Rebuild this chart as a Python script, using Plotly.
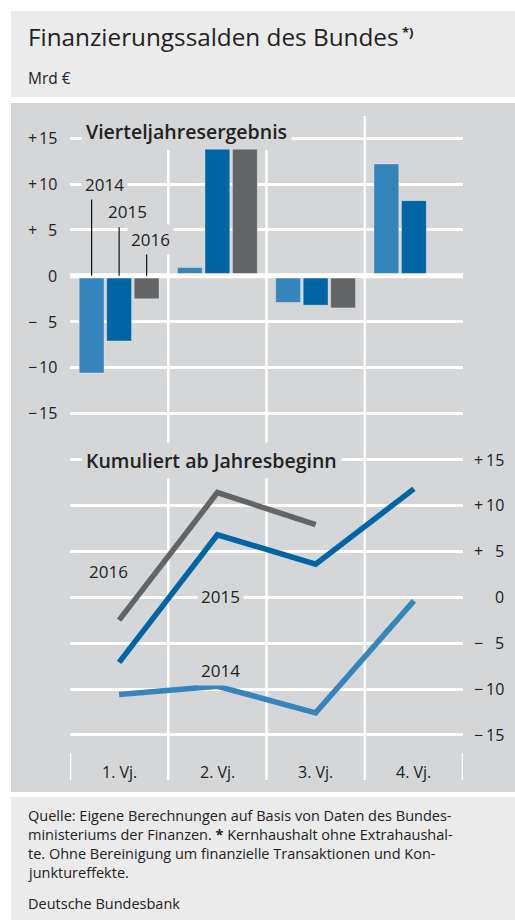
import plotly.graph_objects as go

W, H = 515, 920

# ---- data (bn €) ----
quarters = ["1. Vj.", "2. Vj.", "3. Vj.", "4. Vj."]
years = ["2014", "2015", "2016"]

# quarterly financial balance
q_2014 = [-10.6, 0.9, -2.9, 12.2]
q_2015 = [-7.1, 13.9, -3.2, 8.2]
q_2016 = [-2.5, 13.9, -3.5, None]

# cumulative balance since start of year
cum_2014 = [-10.6, -9.7, -12.6, -0.4]
cum_2015 = [-7.1, 6.8, 3.6, 11.8]
cum_2016 = [-2.5, 11.4, 7.9, None]

tick_vals = [15, 10, 5, 0, -5, -10, -15]

note_lines = [
    "Quelle: Eigene Berechnungen auf Basis von Daten des Bundes-",
    "ministeriums der Finanzen. <b>*</b> Kernhaushalt ohne Extrahaushal-",
    "te. Ohne Bereinigung um finanzielle Transaktionen und Kon-",
    "junktureffekte.",
]

# ---- styling ----
COLORS = {"2014": "#3584bb", "2015": "#0065a4", "2016": "#636466"}
PANEL = "#d5d6d8"
LIGHT = "#ebebec"
TXT = "#222222"
FONT = "Open Sans, Noto Sans, sans-serif"


def px_x(x):
    return x / W


def px_y(y):
    return 1 - y / H


# plot area geometry (pixels)
X0, X1 = 70, 463
TOP_T, TOP_B, ZERO1, K1 = 116, 430, 275.8, 9.167
BOT_T, BOT_B, ZERO2, K2 = 440, 750, 597.2, 9.18

fig = go.Figure()

for yr, vals in zip(years, [q_2014, q_2015, q_2016]):
    fig.add_trace(go.Bar(
        x=quarters, y=vals, name=yr, xaxis="x", yaxis="y",
        marker=dict(color=COLORS[yr], line=dict(color="rgba(255,255,255,0.28)", width=1)),
        showlegend=False, hoverinfo="skip",
    ))

for yr, vals in zip(years, [cum_2014, cum_2015, cum_2016]):
    fig.add_trace(go.Scatter(
        x=quarters, y=vals, name=yr, xaxis="x2", yaxis="y2", mode="lines",
        line=dict(color=COLORS[yr], width=5.5),
        showlegend=False, hoverinfo="skip",
    ))

xax = dict(type="category", range=[-0.5, 3.5], domain=[px_x(X0), px_x(X1)],
           showgrid=False, zeroline=False, showline=False, showticklabels=False,
           ticks="", fixedrange=True)
yax = dict(tickvals=tick_vals, showticklabels=False, showgrid=True,
           gridcolor="white", gridwidth=2.7, zeroline=False, showline=False,
           ticks="", fixedrange=True)

fig.update_layout(
    width=W, height=H,
    margin=dict(l=0, r=0, t=0, b=0),
    paper_bgcolor="white", plot_bgcolor="rgba(0,0,0,0)",
    font=dict(family=FONT, color=TXT),
    barmode="group", bargap=0.16, bargroupgap=0.1,
    xaxis=dict(xax, anchor="y"),
    xaxis2=dict(xax, anchor="y2"),
    yaxis=dict(yax, anchor="x", domain=[px_y(TOP_B), px_y(TOP_T)],
               range=[(ZERO1 - TOP_B) / K1, (ZERO1 - TOP_T) / K1]),
    yaxis2=dict(yax, anchor="x2", domain=[px_y(BOT_B), px_y(BOT_T)],
                range=[(ZERO2 - BOT_B) / K2, (ZERO2 - BOT_T) / K2]),
)

shapes = []


def rect(x0, y0, x1, y1, color):
    shapes.append(dict(type="rect", xref="paper", yref="paper",
                       x0=px_x(x0), x1=px_x(x1), y0=px_y(y1), y1=px_y(y0),
                       fillcolor=color, line=dict(width=0), layer="below"))


rect(11, 11, 515, 97, LIGHT)
rect(11, 103, 515, 792, PANEL)
rect(11, 797, 515, 920, LIGHT)

# category separators running through both panels
for b, top in [(0.5, 150), (1.5, 150), (2.5, 116)]:
    shapes.append(dict(type="line", xref="x", yref="paper", x0=b, x1=b,
                       y0=px_y(780), y1=px_y(top),
                       line=dict(color="white", width=2.5), layer="below"))
for b in [-0.5, 3.5]:
    shapes.append(dict(type="line", xref="x2", yref="paper", x0=b, x1=b,
                       y0=px_y(780), y1=px_y(753),
                       line=dict(color="white", width=2.5), layer="below"))

# bold zero line over the bars
shapes.append(dict(type="line", xref="paper", yref="y", x0=px_x(X0), x1=px_x(X1),
                   y0=0, y1=0, line=dict(color="white", width=5), layer="above"))

# leader lines from the Q1 bars to the year labels
slot = (1 - 0.16) / 3
leader_tops = [8.5, 5.3, 2.4]
for i, top in enumerate(leader_tops):
    xc = (i - 1) * slot
    shapes.append(dict(type="line", xref="x", yref="y", x0=xc, x1=xc, y0=0, y1=top,
                       line=dict(color="#111111", width=1.2), layer="above"))

fig.update_layout(shapes=shapes)

ann = []


def text(x, y, s, size, xref="paper", yref="paper", xanchor="left", yanchor="middle",
         weight=None, bg=None, pad=0, color=TXT):
    f = dict(size=size, family=FONT, color=color)
    if weight:
        f["weight"] = weight
    d = dict(x=x, y=y, xref=xref, yref=yref, text=s, showarrow=False,
             xanchor=xanchor, yanchor=yanchor, font=f, borderpad=pad)
    if bg:
        d["bgcolor"] = bg
    ann.append(d)


# header
text(px_x(27), px_y(36), "Finanzierungssalden des Bundes", 24.3)
text(px_x(401), px_y(32), "<b>*)</b>", 13)
text(px_x(27), px_y(78), "Mrd €", 15.5)

# panel titles
text(px_x(81), px_y(131), "Vierteljahresergebnis", 19.5, weight=600, bg=PANEL, pad=4)
text(px_x(81), px_y(460), "Kumuliert ab Jahresbeginn", 19.5, weight=600, bg=PANEL, pad=4)


def sign_of(v):
    return "+" if v > 0 else ("\u2212" if v < 0 else "")


# value axis labels: left for the upper panel, right for the lower one
for v in tick_vals:
    text(px_x(27), v, sign_of(v), 16, yref="y")
    text(px_x(58), v, str(abs(v)), 16, yref="y", xanchor="right")
    text(px_x(473), v, sign_of(v), 16, yref="y2")
    text(px_x(505), v, str(abs(v)), 16, yref="y2", xanchor="right")

# quarter labels
for i, q in enumerate(quarters):
    text(i, px_y(772), q, 16, xref="x2", xanchor="center")

# year labels in the upper panel
for yr, dx, yv in zip(years, [-0.149, 0.086, 0.315], [10, 7, 4]):
    text(dx, yv, yr, 17, xref="x", yref="y", xanchor="center", bg=PANEL, pad=3)

# year labels in the lower panel
for yr, xv, yv in zip(years, [1.027, 1.027, -0.113], [-8.0, 0.05, 2.8]):
    text(xv, yv, yr, 17, xref="x2", yref="y2", xanchor="center", bg=PANEL, pad=3)

# footnote
for i, line in enumerate(note_lines):
    text(px_x(27), px_y(815 + 19 * i), line, 14.5)
text(px_x(27), px_y(903), "Deutsche Bundesbank", 14.5)

fig.update_layout(annotations=ann)

fig.write_html("out.html", config={"displayModeBar": False})
